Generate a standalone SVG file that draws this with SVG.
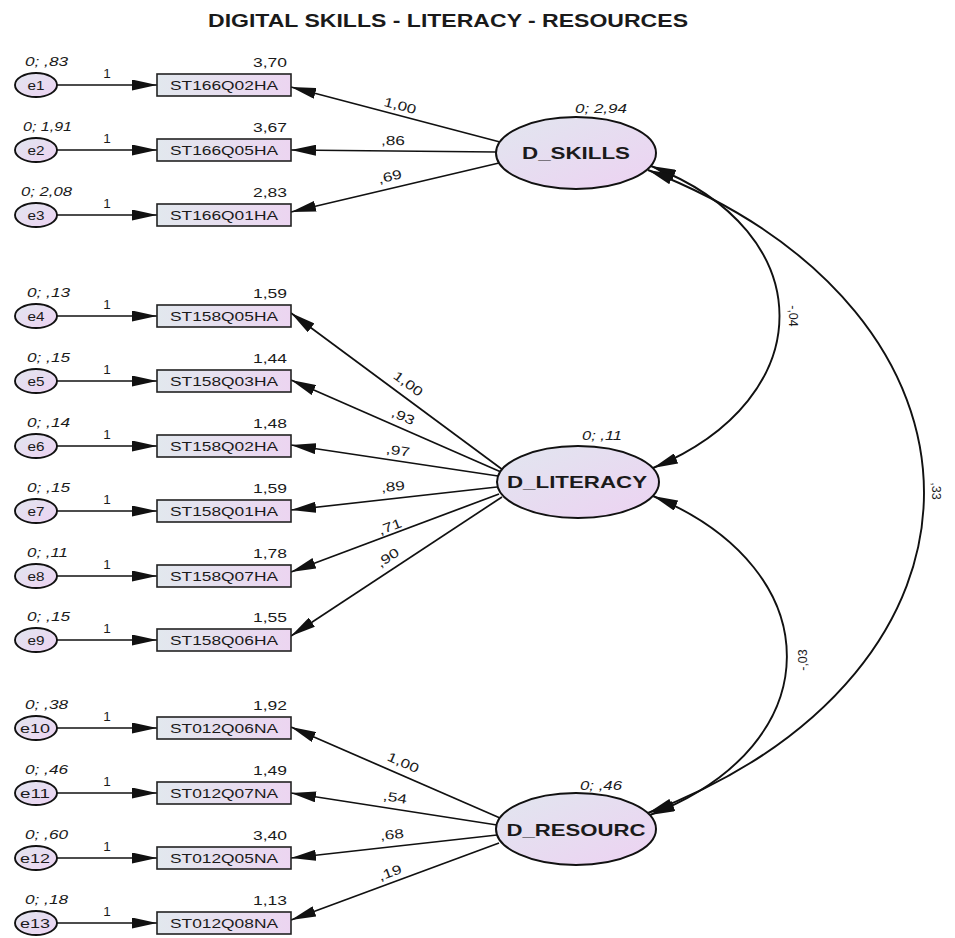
<svg xmlns="http://www.w3.org/2000/svg" width="955" height="938" viewBox="0 0 955 938">
<defs>
<linearGradient id="gb" x1="0" y1="0" x2="1" y2="0"><stop offset="0" stop-color="#e2e8ee"/><stop offset="1" stop-color="#ecd5f1"/></linearGradient>
<linearGradient id="gl" x1="0" y1="0" x2="1" y2="1"><stop offset="0" stop-color="#e1e6ef"/><stop offset="1" stop-color="#edd2f2"/></linearGradient>
<marker id="arr" viewBox="0 0 25 11" refX="25" refY="5.5" markerWidth="25" markerHeight="11" markerUnits="userSpaceOnUse" orient="auto-start-reverse"><path d="M0,0 L25,5.5 L0,11 z" fill="#111"/></marker>
</defs>
<style>
text{font-family:"Liberation Sans",Arial,sans-serif;fill:#1a1a1a}
.box{fill:url(#gb);stroke:#222;stroke-width:1.6}
.err{fill:url(#gl);stroke:#111;stroke-width:1.9}
.lat{fill:url(#gl);stroke:#111;stroke-width:2}
.p{stroke:#111;stroke-width:1.7;fill:none;marker-end:url(#arr)}
.c{stroke:#111;stroke-width:1.9;fill:none;marker-start:url(#arr);marker-end:url(#arr)}
.tb{font-size:13.5px;text-anchor:middle}
.num{font-size:13.5px;text-anchor:end}
.var{font-size:13px;font-style:italic}
.lbl{font-size:13px;text-anchor:middle}
.one{font-size:13.5px;text-anchor:middle}
.et{font-size:13.5px;text-anchor:middle}
.lt{font-size:16.5px;font-weight:bold;text-anchor:middle}
.cl{font-size:12.5px;text-anchor:middle}
.title{font-size:17.5px;font-weight:bold;text-anchor:middle}
</style>
<rect width="955" height="938" fill="#fff"/>
<text class="title" x="448" y="27" textLength="480" lengthAdjust="spacingAndGlyphs">DIGITAL SKILLS - LITERACY - RESOURCES</text>

<g id="connectors">
<line class="p" x1="57" y1="85" x2="157" y2="85"/>
<line class="p" x1="57" y1="150" x2="157" y2="150"/>
<line class="p" x1="57" y1="215" x2="157" y2="215"/>
<line class="p" x1="57" y1="316" x2="157" y2="316"/>
<line class="p" x1="57" y1="381" x2="157" y2="381"/>
<line class="p" x1="57" y1="446" x2="157" y2="446"/>
<line class="p" x1="57" y1="511" x2="157" y2="511"/>
<line class="p" x1="57" y1="576" x2="157" y2="576"/>
<line class="p" x1="57" y1="640" x2="157" y2="640"/>
<line class="p" x1="57" y1="728" x2="157" y2="728"/>
<line class="p" x1="57" y1="793" x2="157" y2="793"/>
<line class="p" x1="57" y1="858" x2="157" y2="858"/>
<line class="p" x1="57" y1="923" x2="157" y2="923"/>
<text class="one" x="107" y="78">1</text>
<text class="one" x="107" y="143">1</text>
<text class="one" x="107" y="208">1</text>
<text class="one" x="107" y="309">1</text>
<text class="one" x="107" y="374">1</text>
<text class="one" x="107" y="439">1</text>
<text class="one" x="107" y="504">1</text>
<text class="one" x="107" y="569">1</text>
<text class="one" x="107" y="633">1</text>
<text class="one" x="107" y="721">1</text>
<text class="one" x="107" y="786">1</text>
<text class="one" x="107" y="851">1</text>
<text class="one" x="107" y="916">1</text>
<line class="p" x1="500" y1="142" x2="291" y2="87"/>
<line class="p" x1="496" y1="152" x2="291" y2="150"/>
<line class="p" x1="499" y1="163" x2="291" y2="212"/>
<line class="p" x1="503" y1="470" x2="291" y2="313"/>
<line class="p" x1="501" y1="472" x2="291" y2="380"/>
<line class="p" x1="498" y1="476" x2="291" y2="445"/>
<line class="p" x1="497" y1="487" x2="291" y2="510"/>
<line class="p" x1="499" y1="494" x2="291" y2="572"/>
<line class="p" x1="502" y1="497" x2="291" y2="636"/>
<line class="p" x1="500" y1="818" x2="291" y2="727"/>
<line class="p" x1="497" y1="825" x2="291" y2="793"/>
<line class="p" x1="497" y1="835" x2="291" y2="858"/>
<line class="p" x1="499" y1="843" x2="291" y2="920"/>
<text class="lbl" transform="translate(400,106) rotate(14.7)" y="4" textLength="33" lengthAdjust="spacingAndGlyphs">1,00</text>
<text class="lbl" transform="translate(393,141) rotate(0.6)" y="4" textLength="24" lengthAdjust="spacingAndGlyphs">,86</text>
<text class="lbl" transform="translate(390,177) rotate(-13.5)" y="4" textLength="24" lengthAdjust="spacingAndGlyphs">,69</text>
<text class="lbl" transform="translate(408,384) rotate(36.5)" y="4" textLength="33" lengthAdjust="spacingAndGlyphs">1,00</text>
<text class="lbl" transform="translate(403,417) rotate(23.7)" y="4" textLength="24" lengthAdjust="spacingAndGlyphs">,93</text>
<text class="lbl" transform="translate(398,451) rotate(8.5)" y="4" textLength="24" lengthAdjust="spacingAndGlyphs">,97</text>
<text class="lbl" transform="translate(393,487) rotate(-6.4)" y="4" textLength="24" lengthAdjust="spacingAndGlyphs">,89</text>
<text class="lbl" transform="translate(390,527) rotate(-20.6)" y="4" textLength="24" lengthAdjust="spacingAndGlyphs">,71</text>
<text class="lbl" transform="translate(388,558) rotate(-33.4)" y="4" textLength="24" lengthAdjust="spacingAndGlyphs">,90</text>
<text class="lbl" transform="translate(403,763) rotate(23.5)" y="4" textLength="33" lengthAdjust="spacingAndGlyphs">1,00</text>
<text class="lbl" transform="translate(395,798) rotate(8.8)" y="4" textLength="24" lengthAdjust="spacingAndGlyphs">,54</text>
<text class="lbl" transform="translate(392,835) rotate(-6.4)" y="4" textLength="24" lengthAdjust="spacingAndGlyphs">,68</text>
<text class="lbl" transform="translate(390,873) rotate(-20.3)" y="4" textLength="24" lengthAdjust="spacingAndGlyphs">,19</text>
<path class="c" d="M651,166 C822,232 822,398 653,468"/>
<path class="c" d="M653,496 C832,570 832,745 650,815"/>
<path class="c" d="M648,170 C1016,314 1016,672 648,813"/>
<text class="cl" transform="translate(793,316) rotate(90)" y="4">-,04</text>
<text class="cl" transform="translate(803,660) rotate(-90)" y="4">-,03</text>
<text class="cl" transform="translate(936,491) rotate(90)" y="4">,33</text>
</g>

<g id="D_SKILLS">
<ellipse class="lat" cx="576" cy="153" rx="80" ry="36"/>
<text class="lt" x="576" y="159" textLength="108" lengthAdjust="spacingAndGlyphs">D_SKILLS</text>
<text class="var" x="575" y="113" textLength="52" lengthAdjust="spacingAndGlyphs">0; 2,94</text>
</g>
<g id="D_LITERACY">
<ellipse class="lat" cx="578" cy="482" rx="81" ry="36"/>
<text class="lt" x="577" y="488" textLength="140" lengthAdjust="spacingAndGlyphs">D_LITERACY</text>
<text class="var" x="582" y="440" textLength="40" lengthAdjust="spacingAndGlyphs">0; ,11</text>
</g>
<g id="D_RESOURC">
<ellipse class="lat" cx="576" cy="829" rx="80" ry="36"/>
<text class="lt" x="576" y="836" textLength="139" lengthAdjust="spacingAndGlyphs">D_RESOURC</text>
<text class="var" x="580" y="790" textLength="42" lengthAdjust="spacingAndGlyphs">0; ,46</text>
</g>

<g id="ST166Q02HA"><rect class="box" x="157" y="74" width="134" height="22"/><text class="tb" x="224" y="90" textLength="108" lengthAdjust="spacingAndGlyphs">ST166Q02HA</text><text class="num" x="287" y="67" textLength="34" lengthAdjust="spacingAndGlyphs">3,70</text></g>
<g id="ST166Q05HA"><rect class="box" x="157" y="139" width="134" height="22"/><text class="tb" x="224" y="155" textLength="108" lengthAdjust="spacingAndGlyphs">ST166Q05HA</text><text class="num" x="287" y="132" textLength="34" lengthAdjust="spacingAndGlyphs">3,67</text></g>
<g id="ST166Q01HA"><rect class="box" x="157" y="204" width="134" height="22"/><text class="tb" x="224" y="220" textLength="108" lengthAdjust="spacingAndGlyphs">ST166Q01HA</text><text class="num" x="287" y="197" textLength="34" lengthAdjust="spacingAndGlyphs">2,83</text></g>
<g id="ST158Q05HA"><rect class="box" x="157" y="305" width="134" height="22"/><text class="tb" x="224" y="321" textLength="108" lengthAdjust="spacingAndGlyphs">ST158Q05HA</text><text class="num" x="287" y="298" textLength="34" lengthAdjust="spacingAndGlyphs">1,59</text></g>
<g id="ST158Q03HA"><rect class="box" x="157" y="370" width="134" height="22"/><text class="tb" x="224" y="386" textLength="108" lengthAdjust="spacingAndGlyphs">ST158Q03HA</text><text class="num" x="287" y="363" textLength="34" lengthAdjust="spacingAndGlyphs">1,44</text></g>
<g id="ST158Q02HA"><rect class="box" x="157" y="435" width="134" height="22"/><text class="tb" x="224" y="451" textLength="108" lengthAdjust="spacingAndGlyphs">ST158Q02HA</text><text class="num" x="287" y="428" textLength="34" lengthAdjust="spacingAndGlyphs">1,48</text></g>
<g id="ST158Q01HA"><rect class="box" x="157" y="500" width="134" height="22"/><text class="tb" x="224" y="516" textLength="108" lengthAdjust="spacingAndGlyphs">ST158Q01HA</text><text class="num" x="287" y="493" textLength="34" lengthAdjust="spacingAndGlyphs">1,59</text></g>
<g id="ST158Q07HA"><rect class="box" x="157" y="565" width="134" height="22"/><text class="tb" x="224" y="581" textLength="108" lengthAdjust="spacingAndGlyphs">ST158Q07HA</text><text class="num" x="287" y="558" textLength="34" lengthAdjust="spacingAndGlyphs">1,78</text></g>
<g id="ST158Q06HA"><rect class="box" x="157" y="629" width="134" height="22"/><text class="tb" x="224" y="645" textLength="108" lengthAdjust="spacingAndGlyphs">ST158Q06HA</text><text class="num" x="287" y="622" textLength="34" lengthAdjust="spacingAndGlyphs">1,55</text></g>
<g id="ST012Q06NA"><rect class="box" x="157" y="717" width="134" height="22"/><text class="tb" x="224" y="733" textLength="108" lengthAdjust="spacingAndGlyphs">ST012Q06NA</text><text class="num" x="287" y="710" textLength="34" lengthAdjust="spacingAndGlyphs">1,92</text></g>
<g id="ST012Q07NA"><rect class="box" x="157" y="782" width="134" height="22"/><text class="tb" x="224" y="798" textLength="108" lengthAdjust="spacingAndGlyphs">ST012Q07NA</text><text class="num" x="287" y="775" textLength="34" lengthAdjust="spacingAndGlyphs">1,49</text></g>
<g id="ST012Q05NA"><rect class="box" x="157" y="847" width="134" height="22"/><text class="tb" x="224" y="863" textLength="108" lengthAdjust="spacingAndGlyphs">ST012Q05NA</text><text class="num" x="287" y="840" textLength="34" lengthAdjust="spacingAndGlyphs">3,40</text></g>
<g id="ST012Q08NA"><rect class="box" x="157" y="912" width="134" height="22"/><text class="tb" x="224" y="928" textLength="108" lengthAdjust="spacingAndGlyphs">ST012Q08NA</text><text class="num" x="287" y="905" textLength="34" lengthAdjust="spacingAndGlyphs">1,13</text></g>

<g id="e1"><ellipse class="err" cx="36" cy="85" rx="21" ry="12"/><text class="et" x="36" y="90" textLength="17" lengthAdjust="spacingAndGlyphs">e1</text><text class="var" x="25" y="66" textLength="43" lengthAdjust="spacingAndGlyphs">0; ,83</text></g>
<g id="e2"><ellipse class="err" cx="36" cy="150" rx="21" ry="12"/><text class="et" x="36" y="155" textLength="17" lengthAdjust="spacingAndGlyphs">e2</text><text class="var" x="23" y="131" textLength="49" lengthAdjust="spacingAndGlyphs">0; 1,91</text></g>
<g id="e3"><ellipse class="err" cx="36" cy="215" rx="21" ry="12"/><text class="et" x="36" y="220" textLength="17" lengthAdjust="spacingAndGlyphs">e3</text><text class="var" x="21" y="196" textLength="51" lengthAdjust="spacingAndGlyphs">0; 2,08</text></g>
<g id="e4"><ellipse class="err" cx="36" cy="316" rx="21" ry="12"/><text class="et" x="36" y="321" textLength="17" lengthAdjust="spacingAndGlyphs">e4</text><text class="var" x="27" y="297" textLength="43" lengthAdjust="spacingAndGlyphs">0; ,13</text></g>
<g id="e5"><ellipse class="err" cx="36" cy="381" rx="21" ry="12"/><text class="et" x="36" y="386" textLength="17" lengthAdjust="spacingAndGlyphs">e5</text><text class="var" x="27" y="362" textLength="43" lengthAdjust="spacingAndGlyphs">0; ,15</text></g>
<g id="e6"><ellipse class="err" cx="36" cy="446" rx="21" ry="12"/><text class="et" x="36" y="451" textLength="17" lengthAdjust="spacingAndGlyphs">e6</text><text class="var" x="27" y="427" textLength="43" lengthAdjust="spacingAndGlyphs">0; ,14</text></g>
<g id="e7"><ellipse class="err" cx="36" cy="511" rx="21" ry="12"/><text class="et" x="36" y="516" textLength="17" lengthAdjust="spacingAndGlyphs">e7</text><text class="var" x="27" y="492" textLength="43" lengthAdjust="spacingAndGlyphs">0; ,15</text></g>
<g id="e8"><ellipse class="err" cx="36" cy="576" rx="21" ry="12"/><text class="et" x="36" y="581" textLength="17" lengthAdjust="spacingAndGlyphs">e8</text><text class="var" x="27" y="557" textLength="41" lengthAdjust="spacingAndGlyphs">0; ,11</text></g>
<g id="e9"><ellipse class="err" cx="36" cy="640" rx="21" ry="12"/><text class="et" x="36" y="645" textLength="17" lengthAdjust="spacingAndGlyphs">e9</text><text class="var" x="27" y="621" textLength="43" lengthAdjust="spacingAndGlyphs">0; ,15</text></g>
<g id="e10"><ellipse class="err" cx="36" cy="728" rx="21" ry="12"/><text class="et" x="35" y="733" textLength="30" lengthAdjust="spacingAndGlyphs">e10</text><text class="var" x="25" y="709" textLength="43" lengthAdjust="spacingAndGlyphs">0; ,38</text></g>
<g id="e11"><ellipse class="err" cx="36" cy="793" rx="21" ry="12"/><text class="et" x="35" y="798" textLength="30" lengthAdjust="spacingAndGlyphs">e11</text><text class="var" x="25" y="774" textLength="43" lengthAdjust="spacingAndGlyphs">0; ,46</text></g>
<g id="e12"><ellipse class="err" cx="36" cy="858" rx="21" ry="12"/><text class="et" x="35" y="863" textLength="30" lengthAdjust="spacingAndGlyphs">e12</text><text class="var" x="25" y="839" textLength="43" lengthAdjust="spacingAndGlyphs">0; ,60</text></g>
<g id="e13"><ellipse class="err" cx="36" cy="923" rx="21" ry="12"/><text class="et" x="35" y="928" textLength="30" lengthAdjust="spacingAndGlyphs">e13</text><text class="var" x="25" y="904" textLength="43" lengthAdjust="spacingAndGlyphs">0; ,18</text></g>
</svg>
